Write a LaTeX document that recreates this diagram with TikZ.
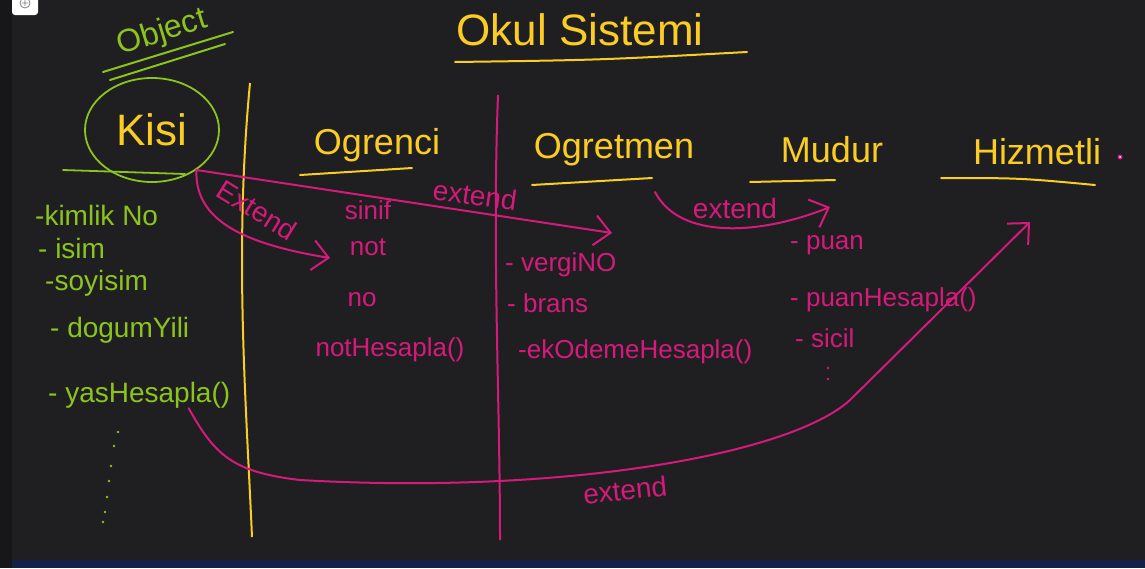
\documentclass[tikz,border=0pt]{standalone}
\usepackage{fontspec}
\setmainfont{Liberation Sans}
\usetikzlibrary{arrows.meta,shapes.geometric}
\definecolor{board}{RGB}{31,31,33}
\definecolor{boardedge}{RGB}{23,23,25}
\definecolor{taskbar}{RGB}{19,33,74}
\definecolor{chalkyellow}{RGB}{250,204,36}
\definecolor{chalkgreen}{RGB}{140,196,30}
\definecolor{chalkpink}{RGB}{214,26,124}
\tikzset{x=1pt, y=-1pt, % one unit is one pixel of the screenshot, y runs down
title/.style={text=chalkyellow, font=\fontsize{44}{48}\selectfont}, % big yellow words
header/.style={text=chalkyellow, font=\fontsize{36}{40}\selectfont}, % class names
greenattr/.style={text=chalkgreen, font=\fontsize{28}{32}\selectfont, anchor=west, inner sep=0pt}, % fields of Kisi
pinkattr/.style={text=chalkpink, font=\fontsize{26}{30}\selectfont, inner sep=0pt}, % fields of the sub classes
underline/.style={draw=chalkyellow, line width=2pt, line cap=round},
extarrow/.style={draw=chalkpink, line width=2pt, line cap=round, -{Straight Barb[length=16pt,width=30pt,line width=2pt]}}, % hand drawn chevron
extlabel/.style={text=chalkpink, font=\fontsize{28}{32}\selectfont},
}
\begin{document}
\begin{tikzpicture}
\useasboundingbox (0,0) rectangle (1145,568);
\fill[board] (0,0) rectangle (1145,568);
\fill[boardedge] (0,0) rectangle (12,568);
\fill[taskbar] (12,560) rectangle (1145,568);
\fill[white, rounded corners=3pt] (12,-6) rectangle (38,15);
\draw[gray, line width=0.8pt] (25,3) circle (5) (22,3) -- (28,3) (25,0) -- (25,6);

% title
\node[title] (okul) at (580,30) {Okul Sistemi};
\draw[underline] (455,62) .. controls (600,60) .. (747,52);

% base class
\node[text=chalkgreen, font=\fontsize{32}{36}\selectfont, inner sep=1pt, rotate=17] (object) at (162,33) {Object};
\draw[chalkgreen, line width=2pt, line cap=round] (103,72) -- (233,32) (110,80) -- (225,44);
\node[ellipse, draw=chalkgreen, line width=1.8pt, minimum width=134pt, minimum height=104pt, title] (kisi) at (152,130) {Kisi};
\draw[chalkgreen, line width=1.8pt, line cap=round] (63,170) -- (185,174);

\node[greenattr] (kimlik) at (35,215) {-kimlik No};
\node[greenattr] (isim) at (38,248) {- isim};
\node[greenattr] (soyisim) at (45,283) {-soyisim};
\node[greenattr] (dogum) at (50,330) {- dogumYili};
\node[greenattr] (yas) at (48,395) {- yasHesapla()};
\foreach \px/\py in {118/432, 114/446, 111/466, 109/481, 107/497, 105/512, 103/522}
  \fill[chalkgreen] (\px,\py) circle (1.3);

% column lines
\draw[chalkyellow, line width=2pt] (250,83) .. controls (234,250) and (246,400) .. (252,537);
\draw[chalkpink, line width=2pt] (498,95) .. controls (492,250) and (500,400) .. (500,540);

% sub classes
\node[header] (ogrenci) at (377,145) {Ogrenci};
\draw[underline] (300,175) -- (412,168);
\node[header] (ogretmen) at (614,150) {Ogretmen};
\draw[underline] (532,185) -- (652,178);
\node[header] (mudur) at (832,150) {Mudur};
\draw[underline] (750,182) -- (835,180);
\node[header] (hizmetli) at (1037,152) {Hizmetli};
\draw[underline] (941,178) .. controls (1020,178) .. (1095,185);
\fill[chalkpink] (1120,157) circle (2.5);
\fill[white] (1120,157) circle (1);

\node[pinkattr] (sinif) at (368,210) {sinif};
\node[pinkattr] (not) at (368,247) {not};
\node[pinkattr] (no) at (362,300) {no};
\node[pinkattr] (nothesap) at (390,350) {notHesapla()};

\node[pinkattr, anchor=west] (vergi) at (505,265) {- vergiNO};
\node[pinkattr, anchor=west] (brans) at (507,303) {- brans};
\node[pinkattr, anchor=west] (ekodeme) at (518,352) {-ekOdemeHesapla()};

\node[pinkattr, anchor=west] (puan) at (790,245) {- puan};
\node[pinkattr, anchor=west] (puanhesap) at (790,300) {- puanHesapla()};
\node[pinkattr, anchor=west] (sicil) at (795,338) {- sicil};
\fill[chalkpink] (828,368) circle (1.3) (828,379) circle (1.3);

% extend arrows
\coordinate (notin) at (330,258);
\coordinate (ogretmenin) at (612,233);
\coordinate (ogretmenout) at (655,192);
\coordinate (mudurin) at (830,207);
\coordinate (hizmetliin) at (1030,222);
\draw[extarrow] (kisi.-42) .. controls (195,215) and (232,242) .. (notin);
\node[extlabel, rotate=-32] (ext1) at (257,210) {Extend};
\draw[extarrow] (kisi.-42) -- (ogretmenin);
\node[extlabel, rotate=-8] (ext2) at (475,195) {extend};
\draw[extarrow] (ogretmenout) .. controls (680,240) and (760,235) .. (mudurin);
\node[extlabel] (ext3) at (735,208) {extend};
\draw[extarrow] (yas.-15) .. controls (215,455) and (232,472) .. (300,480) .. controls (560,495) and (790,455) .. (850,400) -- (hizmetliin);
\node[extlabel, rotate=6] (ext4) at (625,490) {extend};
\end{tikzpicture}
\end{document}
